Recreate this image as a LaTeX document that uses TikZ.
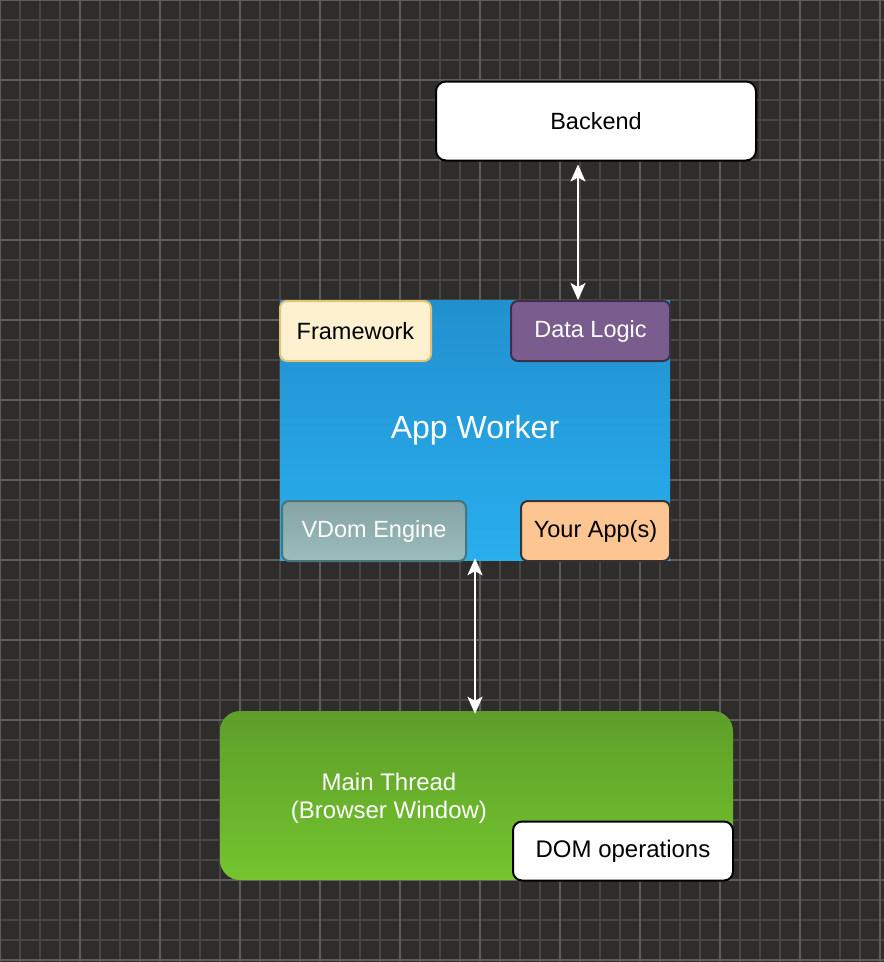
\documentclass[tikz,border=0pt]{standalone}
\usepackage{fontspec}
\setmainfont{Liberation Sans}
\usetikzlibrary{arrows.meta}

\definecolor{canvas}{HTML}{2E2D2C}
\definecolor{gridminor}{HTML}{474645}
\definecolor{gridmajor}{HTML}{5E5D5C}
\definecolor{workertop}{HTML}{2290CF}
\definecolor{workerbot}{HTML}{29AEEE}
\definecolor{threadtop}{HTML}{5E9E2A}
\definecolor{threadbot}{HTML}{74C42E}
\definecolor{frameworkfill}{HTML}{FDF1D0}
\definecolor{frameworkline}{HTML}{E2C276}
\definecolor{logicfill}{HTML}{7A5C8F}
\definecolor{logicline}{HTML}{3C2F48}
\definecolor{vdomtop}{HTML}{85A3A4}
\definecolor{vdombot}{HTML}{9CBDBD}
\definecolor{vdomline}{HTML}{46767C}
\definecolor{appsfill}{HTML}{FCC592}
\definecolor{appsline}{HTML}{3A3232}

\tikzset{
  box/.style={draw, line width=2, rounded corners=7, inner sep=0,
    font=\fontsize{23.5}{28}\selectfont},
  whitebox/.style={box, draw=black, fill=white, text=black},
  link/.style={draw=white, line width=2.2,
    {Stealth[length=17,width=15,inset=4]}-{Stealth[length=17,width=15,inset=4]}}
}

\begin{document}
\begin{tikzpicture}[x=1pt,y=-1pt]
  \useasboundingbox (0,0) rectangle (884,962);
  \fill[canvas] (0,0) rectangle (884,962);

  % grid
  \foreach \i in {0,20,...,880} \draw[gridminor, line width=1.4] (\i,0) -- (\i,962);
  \foreach \j in {0,20,...,960} \draw[gridminor, line width=1.4] (0,\j) -- (884,\j);
  \foreach \i in {0,80,...,880} \draw[gridmajor, line width=1.8] (\i,0) -- (\i,962);
  \foreach \j in {0,80,...,960} \draw[gridmajor, line width=1.8] (0,\j) -- (884,\j);

  % backend
  \node[whitebox, rounded corners=10, minimum width=320, minimum height=79]
    (backend) at (596,121) {Backend};

  % app worker
  \node[draw=none, top color=workertop, bottom color=workerbot,
    minimum width=390, minimum height=260, text=white,
    font=\fontsize{32}{36}\selectfont] (worker) at (475,430) {App Worker};
  \node[box, draw=frameworkline, fill=frameworkfill, text=black,
    minimum width=151, minimum height=60] (framework) at (355.5,331) {Framework};
  \node[box, draw=logicline, fill=logicfill, text=white,
    minimum width=159, minimum height=60] (datalogic) at (590.5,331) {Data Logic};
  \node[box, draw=vdomline, top color=vdomtop, bottom color=vdombot, text=white,
    minimum width=184, minimum height=60] (vdom) at (374,531) {VDom Engine};
  \node[box, draw=appsline, fill=appsfill, text=black,
    minimum width=149, minimum height=60] (apps) at (595.5,531) {Your App(s)};

  % main thread
  \node[draw=none, rounded corners=20, top color=threadtop, bottom color=threadbot,
    minimum width=513, minimum height=169] (thread) at (476.5,795.5) {};
  \node[text=white, align=center, font=\fontsize{24}{28}\selectfont]
    (threadlabel) at (389,798) {Main Thread\\(Browser Window)};
  \node[whitebox, rounded corners=9, minimum width=220, minimum height=59,
    font=\fontsize{24}{28}\selectfont] (domops) at (623,851) {DOM operations};

  % links
  \draw[link] ([xshift=-18]backend.south) ++(0,3) -- ([xshift=-18]backend.south |- datalogic.north);
  \draw[link] ([yshift=2]worker.south) -- ([yshift=-3]worker.south |- thread.north);
\end{tikzpicture}
\end{document}
